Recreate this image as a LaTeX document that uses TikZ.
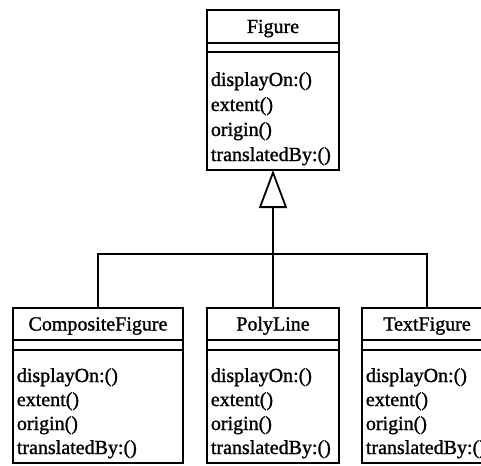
\documentclass[tikz,border=0pt]{standalone}
\usepackage{fontspec}
\setmainfont{Liberation Serif}[FakeBold=1.2]
\usetikzlibrary{arrows.meta}
\begin{document}
\begin{tikzpicture}[x=1pt, y=-1pt, line width=1.8pt,
  classfont/.style={font=\fontsize{20}{24}\selectfont},
  part/.style={draw, rectangle, inner sep=0pt, outer sep=0pt, anchor=north},
  titlepart/.style={part, classfont, text height=15.5pt, text depth=2.5pt},
  oper/.style={classfont, inner sep=0pt, anchor=base west},
  inherit/.style={-{Triangle[open, length=38pt, width=28pt]}}]
\useasboundingbox (0,0) rectangle (481,465);
\clip (0,0) rectangle (481,465);

% superclass
\node[titlepart, minimum width=132pt, minimum height=33pt] (figT) at (273,10) {Figure};
\node[part, minimum width=132pt, minimum height=9pt] (figA) at (figT.south) {};
\node[part, minimum width=132pt, minimum height=118pt] (figO) at (figA.south) {};
\foreach \t [count=\i] in {{displayOn:()},{extent()},{origin()},{translatedBy:()}}
  \node[oper] (figM\i) at ([shift={(3,34+25*\i-25)}]figO.north west) {\t};

% subclasses
\node[titlepart, minimum width=170pt, minimum height=32pt] (compT) at (98,308) {CompositeFigure};
\node[part, minimum width=170pt, minimum height=10pt] (compA) at (compT.south) {};
\node[part, minimum width=170pt, minimum height=113pt] (compO) at (compA.south) {};

\node[titlepart, minimum width=132pt, minimum height=32pt] (polyT) at (273,308) {PolyLine};
\node[part, minimum width=132pt, minimum height=10pt] (polyA) at (polyT.south) {};
\node[part, minimum width=132pt, minimum height=113pt] (polyO) at (polyA.south) {};

\node[titlepart, minimum width=130pt, minimum height=32pt] (textT) at (427,308) {TextFigure};
\node[part, minimum width=130pt, minimum height=10pt] (textA) at (textT.south) {};
\node[part, minimum width=130pt, minimum height=113pt] (textO) at (textA.south) {};

\foreach \c in {comp,poly,text}
  \foreach \t [count=\i] in {{displayOn:()},{extent()},{origin()},{translatedBy:()}}
    \node[oper] (\c M\i) at ([shift={(3,32+24*\i-24)}]\c O.north west) {\t};

% generalization
\coordinate (hub) at (273,254);
\draw (compT.north) |- (hub);
\draw (textT.north) |- (hub);
\draw (polyT.north) -- (hub);
\draw[inherit] (hub) -- (figO.south);
\end{tikzpicture}
\end{document}
